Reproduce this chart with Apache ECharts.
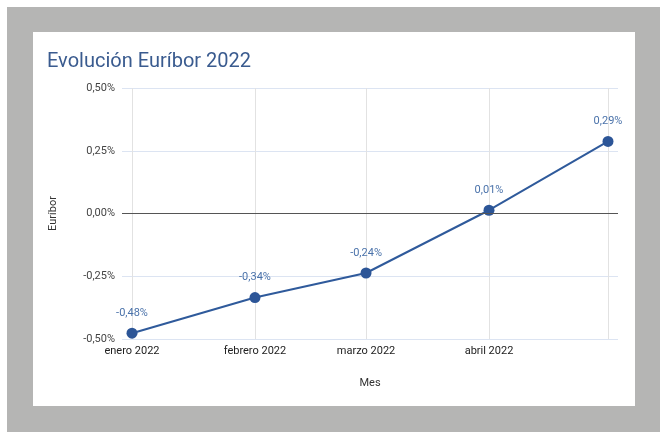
<!DOCTYPE html>
<html>
<head>
<meta charset="utf-8">
<script src="https://cdn.jsdelivr.net/npm/echarts@6/dist/echarts.min.js"></script>
<style>
    html, body { margin: 0; padding: 0; background: #fff; }
    #frame { position: absolute; left: 7px; top: 7px; width: 653px; height: 425px; background: #b5b5b4; }
    #card { position: absolute; left: 33px; top: 32px; width: 602px; height: 374px; background: #fff; }
    #chart { position: absolute; left: 0; top: 0; width: 660px; height: 432px; }
</style>
</head>
<body>
<div id="frame"></div>
<div id="card"></div>
<div id="chart"></div>
<script>
// datos del Euríbor (inicio de cada mes)
var fechas = ['2022-01-01', '2022-02-01', '2022-03-01', '2022-04-01', '2022-05-01'];
var valores = [-0.477, -0.335, -0.237, 0.013, 0.287];
var meses = ['enero', 'febrero', 'marzo', 'abril', 'mayo', 'junio', 'julio', 'agosto', 'septiembre', 'octubre', 'noviembre', 'diciembre'];
var mesesConEtiqueta = [0, 1, 2, 3];

var chart = echarts.init(document.getElementById('chart'));

var serie = [];
for (var i = 0; i < fechas.length; i++) {
    serie.push([fechas[i], valores[i]]);
}

var dia = 86400000;
var inicio = new Date(2022, 0, 1).getTime() - 2.52 * dia;
var fin = new Date(2022, 4, 1).getTime() + 2.52 * dia;

function pct(v) {
    return v.toFixed(2).replace('.', ',') + '%';
}

var option = {
    title: {
        text: 'Evolución Euríbor 2022',
        left: 42,
        top: 47,
        textStyle: {
            color: '#3a5b8f',
            fontFamily: 'Roboto',
            fontSize: 20,
            fontWeight: 'normal'
        }
    },
    grid: {
        left: 122,
        right: 42,
        top: 88,
        bottom: 93,
        containLabel: false
    },
    xAxis: {
        type: 'time',
        min: inicio,
        max: fin,
        minInterval: 28 * dia,
        maxInterval: 31 * dia,
        name: 'Mes',
        nameLocation: 'middle',
        nameGap: 39,
        nameTextStyle: { color: '#333', fontFamily: 'Roboto', fontSize: 11 },
        axisLine: { show: false },
        axisTick: { show: false },
        axisLabel: {
            color: '#222',
            fontFamily: 'Roboto',
            fontSize: 11,
            margin: 7,
            showMinLabel: false,
            showMaxLabel: false,
            hideOverlap: false,
            formatter: function (value) {
                var d = new Date(value);
                if (d.getDate() !== 1 || mesesConEtiqueta.indexOf(d.getMonth()) < 0) {
                    return '';
                }
                return meses[d.getMonth()] + ' ' + d.getFullYear();
            }
        },
        splitLine: {
            show: true,
            showMinLine: false,
            showMaxLine: false,
            lineStyle: { color: '#e2e2e2', width: 1 }
        }
    },
    yAxis: {
        type: 'value',
        min: -0.5,
        max: 0.5,
        interval: 0.25,
        name: 'Euríbor',
        nameLocation: 'middle',
        nameRotate: 90,
        nameGap: 63,
        nameTextStyle: { color: '#333', fontFamily: 'Roboto', fontSize: 11 },
        axisLine: { show: false },
        axisTick: { show: false },
        axisLabel: {
            color: '#444',
            fontFamily: 'Roboto',
            fontSize: 11,
            margin: 7,
            formatter: pct
        },
        splitLine: { lineStyle: { color: '#dce4f2', width: 1 } }
    },
    series: [
        {
            name: 'Euríbor',
            type: 'line',
            data: serie,
            color: '#2c5597',
            symbol: 'circle',
            symbolSize: 11,
            lineStyle: { width: 2, color: '#2f5a9b' },
            itemStyle: { color: '#2c5597' },
            label: {
                show: true,
                position: 'top',
                distance: 9,
                color: '#4a72aa',
                fontFamily: 'Roboto',
                fontSize: 11,
                formatter: function (p) {
                    return pct(p.value[1]);
                }
            },
            markLine: {
                silent: true,
                symbol: 'none',
                label: { show: false },
                lineStyle: { color: '#555', width: 1, type: 'solid' },
                data: [{ yAxis: 0 }]
            },
            z: 3
        }
    ]
};

chart.setOption(option);
window.onresize = chart.resize;
</script>
</body>
</html>
